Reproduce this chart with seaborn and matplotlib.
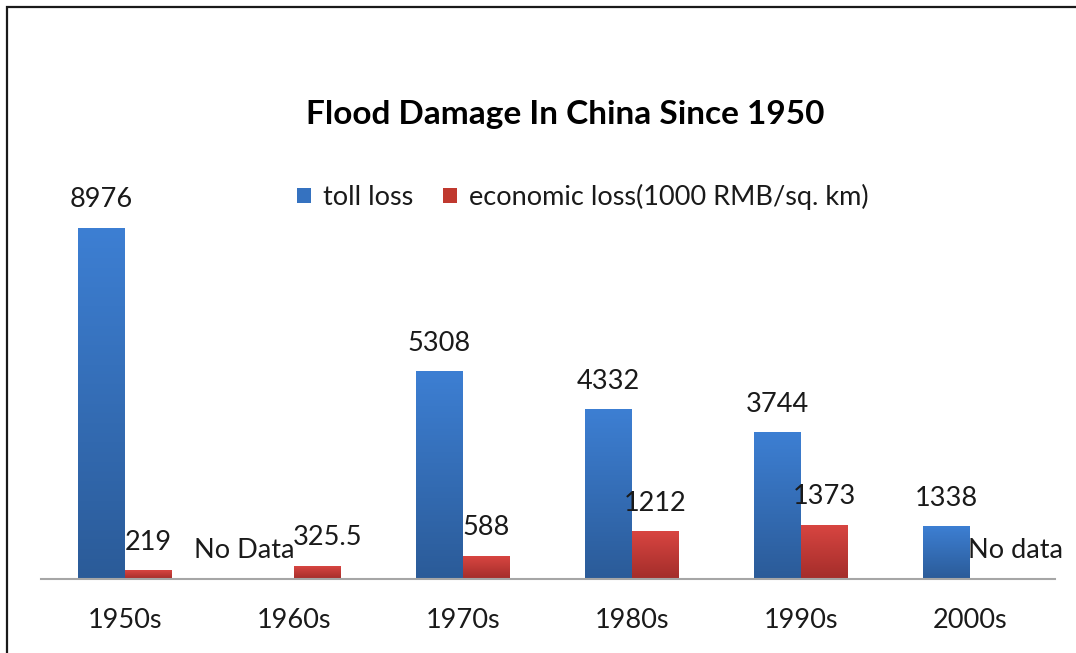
import numpy as np
import pandas as pd
import matplotlib
matplotlib.use("Agg")
import matplotlib.pyplot as plt
from matplotlib.patches import Rectangle, Patch
import seaborn as sns

# Data
decades = ["1950s", "1960s", "1970s", "1980s", "1990s", "2000s"]
toll_loss = [8976, np.nan, 5308, 4332, 3744, 1338]
economic_loss = [219, 325.5, 588, 1212, 1373, np.nan]
series_names = ["toll loss", "economic loss(1000 RMB/sq. km)"]
toll_labels = ["8976", "No Data", "5308", "4332", "3744", "1338"]
econ_labels = ["219", "325.5", "588", "1212", "1373", "No data"]

df = pd.DataFrame({
    "decade": decades * 2,
    "series": [series_names[0]] * len(decades) + [series_names[1]] * len(decades),
    "value": toll_loss + economic_loss,
})

sns.set_theme(style="white")
plt.rcParams["font.family"] = ["Lato", "DejaVu Sans"]

W, H = 1076, 653
fig = plt.figure(figsize=(W / 100, H / 100), dpi=100)
fig.patch.set_facecolor("white")

ax = fig.add_axes([40.5 / W, 74 / H, 1014 / W, 391 / H])
bar_width = 0.556
palette = {series_names[0]: "#3572c0", series_names[1]: "#c0392f"}
sns.barplot(data=df, x="decade", y="value", hue="series", order=decades,
            hue_order=series_names, palette=palette, width=bar_width,
            dodge=True, ax=ax, legend=False, saturation=1)

# Vertical gradient fill for every bar
gradients = {
    0: ("#3d7fd3", "#2b5b98"),  # top, bottom
    1: ("#d84541", "#a32d2a"),
}

def gradient_image(top, bottom, n=256):
    t = np.array(matplotlib.colors.to_rgb(top))
    b = np.array(matplotlib.colors.to_rgb(bottom))
    f = np.linspace(0, 1, n)[:, None]
    return (b + (t - b) * f)[:, None, :]

for j, cont in enumerate(ax.containers):
    img = gradient_image(*gradients[j])
    for bar in cont:
        h = bar.get_height()
        if not np.isfinite(h) or h <= 0:
            continue
        x0 = bar.get_x()
        x1 = x0 + bar.get_width()
        ax.imshow(img, extent=(x0, x1, 0, h), origin="lower",
                  aspect="auto", zorder=bar.get_zorder(), interpolation="bilinear")
        bar.set_alpha(0)

ax.set_xlim(-0.5, len(decades) - 0.5)
ax.set_ylim(0, 10000)

# Data labels above the bars
label_fs = 19.5
for i in range(len(decades)):
    for j, (vals, labs) in enumerate([(toll_loss, toll_labels), (economic_loss, econ_labels)]):
        xc = i + (j - 0.5) * bar_width / 2
        v = vals[i]
        h = v if np.isfinite(v) else 0
        dx = 0
        if labs[i] == "No Data":
            dx = -19
        elif labs[i] == "No data":
            dx = 16
        elif labs[i] == "325.5":
            dx = 7
        ax.annotate(labs[i], (xc, h), xytext=(dx, 15), textcoords="offset points",
                    ha="center", va="baseline", fontsize=label_fs, color="#1a1a1a")

# Axes styling
for s in ["top", "right", "left"]:
    ax.spines[s].set_visible(False)
ax.spines["bottom"].set_color("#a6a6a6")
ax.spines["bottom"].set_linewidth(1.5)
ax.set_yticks([])
ax.set_xlabel("")
ax.set_ylabel("")
ax.tick_params(axis="x", length=0, pad=21, labelsize=label_fs, labelcolor="#1a1a1a")

# Title
fig.text(565 / W, 1 - 124 / H, "Flood Damage In China Since 1950", ha="center",
         va="baseline", fontsize=24, fontweight="bold", color="black")

# Legend
handles = [Patch(facecolor="#3572c0", edgecolor="none"),
           Patch(facecolor="#c0392f", edgecolor="none")]
fig.legend(handles, series_names, loc="center", bbox_to_anchor=(583 / W, 1 - 197 / H),
           ncol=2, frameon=False, fontsize=label_fs, handlelength=0.5,
           handleheight=0.5, handletextpad=0.45, columnspacing=1.1,
           labelcolor="#1a1a1a")

# Outer frame
fig.add_artist(Rectangle((7 / W, -0.1), 1.2, 1.1 - 7 / H, transform=fig.transFigure,
                         fill=False, edgecolor="#1a1a1a", linewidth=1.6, clip_on=False))

fig.savefig("out.png", dpi=100, facecolor="white")
